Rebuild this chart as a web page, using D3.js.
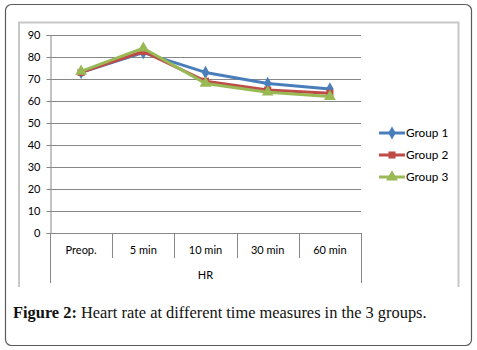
<!DOCTYPE html>
<html>
<head>
<meta charset="utf-8">
<script src="https://cdn.jsdelivr.net/npm/d3@7"></script>
<style>
  body { margin: 0; background: #fff; }
  svg text { font-family: Lato, "Open Sans", sans-serif; }
</style>
</head>
<body>
<svg width="477" height="350"></svg>
<script>
const categories = ['Preop.', '5 min', '10 min', '30 min', '60 min']
const group1 = [73, 82, 73, 68, 65.5]
const group2 = [73, 82.5, 69, 65, 63.5]
const group3 = [73.5, 84, 68, 64, 62]
const seriesNames = ['Group 1', 'Group 2', 'Group 3']
const yTicks = [0, 10, 20, 30, 40, 50, 60, 70, 80, 90]
const axisTitle = 'HR'
const caption = 'Heart rate at different time measures in the 3 groups.'

const colors = ['#4A7EBB', '#BE4B48', '#98B954']
const symbols = [d3.symbolDiamond, d3.symbolSquare, d3.symbolTriangle]
const series = [group1, group2, group3]

const svg = d3.select('svg')

// outer rounded box
svg.append('rect')
  .attr('x', 5.5).attr('y', 4.5)
  .attr('width', 466).attr('height', 341)
  .attr('rx', 6)
  .attr('fill', '#fff')
  .attr('stroke', '#5a5a5a')
  .attr('stroke-width', 1.2)

// chart frame (light gray)
svg.append('path')
  .attr('d', 'M19,287 V22.5 H458.5 V287')
  .attr('fill', 'none')
  .attr('stroke', '#c8c8c8')
  .attr('stroke-width', 2)

const margin = { top: 35, left: 50 }
const innerWidth = 311
const innerHeight = 198

const g = svg.append('g')
  .attr('transform', `translate(${margin.left},${margin.top})`)

const xScale = d3.scaleBand()
  .domain(categories)
  .range([0, innerWidth])

const yScale = d3.scaleLinear()
  .domain([0, 90])
  .range([innerHeight, 0])

// gridlines
g.append('g').selectAll('line')
  .data(yTicks.filter(d => d > 0))
  .enter().append('line')
  .attr('x1', 0).attr('x2', innerWidth)
  .attr('y1', d => Math.round(yScale(d)) + 0.5)
  .attr('y2', d => Math.round(yScale(d)) + 0.5)
  .attr('stroke', '#878787')

const yAxis = d3.axisLeft(yScale)
  .tickValues(yTicks)
  .tickSize(4)
  .tickPadding(6)

const yAxisG = g.append('g')
  .attr('transform', 'translate(0.5,0)')
  .call(yAxis)
yAxisG.select('.domain').attr('stroke', '#878787')
yAxisG.selectAll('line').attr('stroke', '#878787')
yAxisG.selectAll('text')
  .attr('font-size', 11)
  .attr('fill', '#000')
  .style('font-family', 'Lato, sans-serif')

// x axis baseline + category separators
g.append('line')
  .attr('x1', 0).attr('x2', innerWidth)
  .attr('y1', innerHeight + 0.5).attr('y2', innerHeight + 0.5)
  .attr('stroke', '#878787')

const bounds = categories.map(c => xScale(c)).concat([innerWidth])
g.append('g').selectAll('line')
  .data(bounds)
  .enter().append('line')
  .attr('x1', d => Math.round(d) + 0.5)
  .attr('x2', d => Math.round(d) + 0.5)
  .attr('y1', innerHeight)
  .attr('y2', (d, i) => (i === 0 || i === bounds.length - 1) ? innerHeight + 50 : innerHeight + 25)
  .attr('stroke', '#878787')

g.append('g').selectAll('text')
  .data(categories)
  .enter().append('text')
  .attr('x', d => xScale(d) + xScale.bandwidth() / 2)
  .attr('y', innerHeight + 21)
  .attr('text-anchor', 'middle')
  .attr('font-size', 11)
  .text(d => d)

g.append('text')
  .attr('x', innerWidth / 2)
  .attr('y', innerHeight + 46)
  .attr('text-anchor', 'middle')
  .attr('font-size', 11)
  .text(axisTitle)

// series lines
const line = d3.line()
  .x((d, i) => xScale(categories[i]) + xScale.bandwidth() / 2)
  .y(d => yScale(d))

series.forEach((s, k) => {
  g.append('path')
    .datum(s)
    .attr('d', line)
    .attr('fill', 'none')
    .attr('stroke', colors[k])
    .attr('stroke-width', 3)
    .attr('stroke-linejoin', 'round')

  g.append('g').selectAll('path')
    .data(s)
    .enter().append('path')
    .attr('d', d3.symbol().type(symbols[k]).size(k === 2 ? 60 : 50))
    .attr('transform', (d, i) => `translate(${xScale(categories[i]) + xScale.bandwidth() / 2},${yScale(d)})`)
    .attr('fill', colors[k])
})

// legend
const legend = svg.append('g')
  .attr('transform', 'translate(379,133)')

seriesNames.forEach((name, k) => {
  const row = legend.append('g')
    .attr('transform', `translate(0,${k * 22})`)
  row.append('line')
    .attr('x1', 0).attr('x2', 26)
    .attr('stroke', colors[k])
    .attr('stroke-width', 3)
  row.append('path')
    .attr('d', d3.symbol().type(symbols[k]).size(k === 2 ? 60 : 50))
    .attr('transform', 'translate(13,0)')
    .attr('fill', colors[k])
  row.append('text')
    .attr('x', 27)
    .attr('y', 4)
    .attr('font-size', 11.8)
    .text(name)
})

// caption
const cap = svg.append('text')
  .attr('x', 13)
  .attr('y', 318)
  .attr('font-size', 16.4)
  .style('font-family', '"Liberation Serif", serif')
  .attr('fill', '#111')
cap.append('tspan').attr('font-weight', 'bold').text('Figure 2:')
cap.append('tspan').text(' ' + caption)
</script>
</body>
</html>
